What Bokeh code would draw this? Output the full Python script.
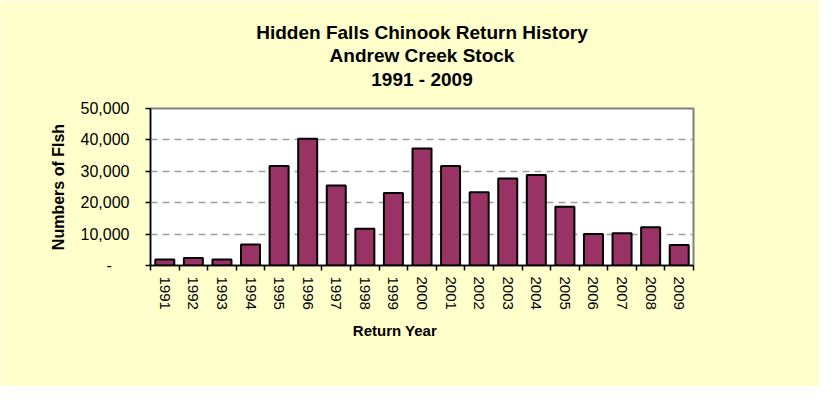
import math
from bokeh.plotting import figure
from bokeh.models import (FixedTicker, NumeralTickFormatter, Title, Range1d, ColumnDataSource,
                          BoxAnnotation)
from bokeh.embed import file_html
from bokeh.resources import INLINE

years = ["1991", "1992", "1993", "1994", "1995", "1996", "1997", "1998", "1999", "2000",
         "2001", "2002", "2003", "2004", "2005", "2006", "2007", "2008", "2009"]
fish = [1900, 2400, 1900, 6700, 31700, 40400, 25500, 11700, 23100, 37300,
        31700, 23300, 27700, 28800, 18700, 10000, 10300, 12200, 6500]
y_ticks = [0, 10000, 20000, 30000, 40000, 50000]

title_lines = ["Hidden Falls Chinook Return History", "Andrew Creek Stock", "1991 - 2009"]

FONT = "Liberation Sans"
centers = [i + 0.5 for i in range(len(years))]
bounds = [float(i) for i in range(len(years) + 1)]

W, H = 819, 386
p = figure(frame_width=543, frame_height=157,
           min_border_left=150, min_border_right=126, min_border_top=108, min_border_bottom=121,
           output_backend="svg", toolbar_location=None,
           x_range=Range1d(0, len(years)), y_range=Range1d(0, 50000))
p.border_fill_color = "#FFFFCC"
p.background_fill_color = "white"
p.outline_line_color = "#808080"
p.outline_line_width = 2

src = ColumnDataSource(dict(x=centers, top=fish, year=years))
p.vbar(x="x", top="top", width=0.665, source=src, fill_color="#993366",
       line_color="black", line_width=2)

# chart-area border (top and left edges visible)
for l, r, t, b in [(3, 5, 4, H), (3, W, 4, 6)]:
    p.add_layout(BoxAnnotation(left=l, right=r, top=t, bottom=b,
                               left_units="canvas", right_units="canvas",
                               top_units="canvas", bottom_units="canvas",
                               fill_color="black", fill_alpha=1, line_color=None))

# spacer between plot area and title block
p.add_layout(Title(text="\u00a0", text_font=FONT, text_font_size="8px", standoff=8), "above")
# titles, added from the line nearest the plot outward
standoffs = [0, 1, 0]
for line, so in zip(reversed(title_lines), standoffs):
    t = Title(text=line, align="center", text_font=FONT, text_font_size="19px",
              text_font_style="bold", text_color="black", standoff=so)
    p.add_layout(t, "above")

# y axis
ya = p.yaxis[0]
ya.ticker = FixedTicker(ticks=y_ticks)
ya.formatter = NumeralTickFormatter(format="0,0")
ya.major_label_overrides = {0: "-\u00a0\u00a0\u00a0\u00a0"}
ya.major_label_text_font = FONT
ya.major_label_text_font_size = "16px"
ya.major_label_text_color = "black"
ya.major_tick_out = 5
ya.major_tick_in = 0
ya.minor_tick_line_color = None
ya.axis_line_color = "black"
ya.axis_line_width = 1.5
ya.major_tick_line_width = 1.5
ya.major_label_standoff = 16
ya.axis_label = "Numbers of FIsh"
ya.axis_label_text_font = FONT
ya.axis_label_text_font_size = "16px"
ya.axis_label_text_font_style = "bold"
ya.axis_label_text_color = "black"
ya.axis_label_standoff = 11

# x axis
xa = p.xaxis[0]
xa.ticker = FixedTicker(ticks=centers, minor_ticks=bounds)
xa.major_label_overrides = {c: y for c, y in zip(centers, years)}
xa.major_label_orientation = -math.pi / 2
xa.major_label_text_font = FONT
xa.major_label_text_font_size = "15px"
xa.major_label_text_color = "black"
xa.major_tick_line_color = None
xa.major_tick_out = 0
xa.major_tick_in = 0
xa.minor_tick_out = 5
xa.minor_tick_in = 0
xa.minor_tick_line_color = "black"
xa.minor_tick_line_width = 1.5
xa.axis_line_color = "black"
xa.axis_line_width = 1.5
xa.major_label_standoff = 6
xa.axis_label = "Return Year" + "\u00a0" * 13
xa.axis_label_text_font = FONT
xa.axis_label_text_font_size = "15px"
xa.axis_label_text_font_style = "bold"
xa.axis_label_text_color = "black"
xa.axis_label_standoff = 9

p.xgrid.grid_line_color = None
p.ygrid.grid_line_color = "#a0a0a0"
p.ygrid.grid_line_dash = "7 5"
p.ygrid.grid_line_width = 1.5

open("out.html", "w").write(file_html(p, INLINE))
